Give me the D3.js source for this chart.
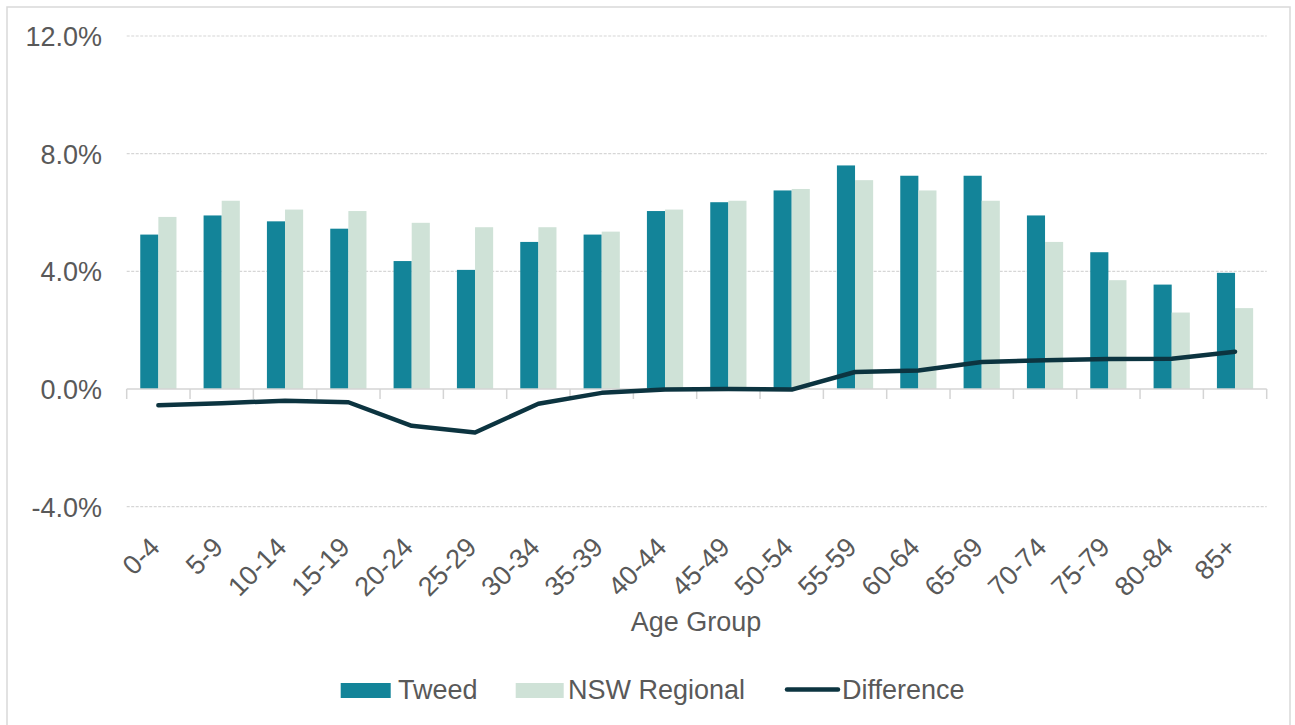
<!DOCTYPE html>
<html>
<head>
<meta charset="utf-8">
<script src="https://cdn.jsdelivr.net/npm/d3@7"></script>
<style>
  html, body { margin: 0; padding: 0; background: #ffffff; }
  svg { display: block; }
  text { font-family: "Liberation Sans", Arial, sans-serif; fill: #595959; }
</style>
</head>
<body>
<svg id="chart" width="1295" height="725"></svg>
<script>
// Age groups along the x axis
const ageGroups = ["0-4","5-9","10-14","15-19","20-24","25-29","30-34","35-39","40-44",
  "45-49","50-54","55-59","60-64","65-69","70-74","75-79","80-84","85+"];

// Share of population in each age group (%)
const tweed = [5.25, 5.9, 5.7, 5.45, 4.35, 4.05, 5.0, 5.25, 6.05, 6.35, 6.75, 7.6, 7.25, 7.25, 5.9, 4.65, 3.55, 3.95];
const nswRegional = [5.85, 6.4, 6.1, 6.05, 5.65, 5.5, 5.5, 5.35, 6.1, 6.4, 6.8, 7.1, 6.75, 6.4, 5.0, 3.7, 2.6, 2.75];
const difference = [-0.55, -0.48, -0.4, -0.45, -1.25, -1.48, -0.5, -0.13, -0.02, 0.0, -0.02, 0.58, 0.63, 0.92, 0.98, 1.02, 1.03, 1.27];

// Y axis ticks (%)
const yTicks = [-4, 0, 4, 8, 12];

const seriesNames = ["Tweed", "NSW Regional"];
const colors = { "Tweed": "#138499", "NSW Regional": "#cfe2d7", "Difference": "#0c3440" };

const svg = d3.select("#chart");

// Outer frame
svg.append("rect")
  .attr("x", 7).attr("y", 7)
  .attr("width", 1283).attr("height", 725)
  .attr("fill", "none").attr("stroke", "#d9d9d9").attr("stroke-width", 1.5);

const plot = { left: 126.7, right: 1266.7, top: 36, bottom: 506.7 };

const x = d3.scaleBand().domain(ageGroups).range([plot.left, plot.right]).paddingInner(0).paddingOuter(0);
const y = d3.scaleLinear().domain([-4, 12]).range([plot.bottom, plot.top]);

const barW = x.bandwidth() * 0.286;
const x1 = d3.scaleBand().domain(seriesNames)
  .range([x.bandwidth() / 2 - barW, x.bandwidth() / 2 + barW]);

// Gridlines
svg.append("g")
  .selectAll("line")
  .data(yTicks.filter(t => t !== 0))
  .join("line")
  .attr("x1", plot.left).attr("x2", plot.right)
  .attr("y1", d => y(d)).attr("y2", d => y(d))
  .attr("stroke", "#d6d6d6").attr("stroke-width", 1.2)
  .attr("stroke-dasharray", "3,1.5");

// Y axis labels (plain hyphen for negatives)
const pct = d => (d < 0 ? "-" : "") + Math.abs(d).toFixed(1) + "%";
const yAxis = d3.axisLeft(y).tickValues(yTicks).tickSize(0).tickPadding(0).tickFormat(pct);
svg.append("g")
  .attr("transform", `translate(102,0)`)
  .call(yAxis)
  .call(g => g.select(".domain").remove())
  .call(g => g.selectAll("text")
    .attr("x", 0).attr("dy", "0.35em")
    .attr("text-anchor", "end")
    .style("font-size", "27px").style("fill", "#595959")
    .style("font-family", "'Liberation Sans', Arial, sans-serif"));

// Bars
const groups = svg.append("g")
  .selectAll("g")
  .data(ageGroups.map((a, i) => ({ age: a, values: [
    { key: "Tweed", value: tweed[i] },
    { key: "NSW Regional", value: nswRegional[i] }
  ] })))
  .join("g")
  .attr("transform", d => `translate(${x(d.age)},0)`);

groups.selectAll("rect")
  .data(d => d.values)
  .join("rect")
  .attr("x", d => x1(d.key))
  .attr("width", x1.bandwidth())
  .attr("y", d => y(Math.max(0, d.value)))
  .attr("height", d => Math.abs(y(d.value) - y(0)))
  .attr("fill", d => colors[d.key]);

// Zero axis with tick marks at category boundaries
const axisG = svg.append("g");
axisG.append("line")
  .attr("x1", plot.left).attr("x2", plot.right)
  .attr("y1", y(0)).attr("y2", y(0))
  .attr("stroke", "#d4d4d4").attr("stroke-width", 1.5);
const boundaries = ageGroups.map(a => x(a)).concat([plot.right]);
axisG.selectAll("line.tick")
  .data(boundaries)
  .join("line")
  .attr("class", "tick")
  .attr("x1", d => d).attr("x2", d => d)
  .attr("y1", y(0)).attr("y2", y(0) + 10)
  .attr("stroke", "#d4d4d4").attr("stroke-width", 1.5);

// Difference line
const line = d3.line()
  .x((d, i) => x(ageGroups[i]) + x.bandwidth() / 2)
  .y(d => y(d));
svg.append("path")
  .datum(difference)
  .attr("d", line)
  .attr("fill", "none")
  .attr("stroke", colors["Difference"])
  .attr("stroke-width", 4.5)
  .attr("stroke-linejoin", "round")
  .attr("stroke-linecap", "round");

// X tick labels, rotated
svg.append("g")
  .selectAll("text")
  .data(ageGroups)
  .join("text")
  .attr("transform", d => `translate(${x(d) + x.bandwidth() / 2 + 3},549) rotate(-45)`)
  .attr("text-anchor", "end")
  .style("font-size", "27px")
  .text(d => d);

// X axis title
svg.append("text")
  .attr("x", 696).attr("y", 631)
  .attr("text-anchor", "middle")
  .style("font-size", "27px")
  .text("Age Group");

// Legend
const legend = svg.append("g");
const legendItems = [
  { key: "Tweed", type: "rect", x: 340.7, w: 50, tx: 398 },
  { key: "NSW Regional", type: "rect", x: 515.7, w: 48, tx: 568 },
  { key: "Difference", type: "line", x: 787, w: 51, tx: 842 }
];
legendItems.forEach(it => {
  if (it.type === "rect") {
    legend.append("rect")
      .attr("x", it.x).attr("y", 683)
      .attr("width", it.w).attr("height", 15)
      .attr("fill", colors[it.key]);
  } else {
    legend.append("line")
      .attr("x1", it.x).attr("x2", it.x + it.w)
      .attr("y1", 689.5).attr("y2", 689.5)
      .attr("stroke", colors[it.key]).attr("stroke-width", 4.5)
      .attr("stroke-linecap", "round");
  }
  legend.append("text")
    .attr("x", it.tx).attr("y", 699)
    .style("font-size", "27px")
    .text(it.key);
});
</script>
</body>
</html>
